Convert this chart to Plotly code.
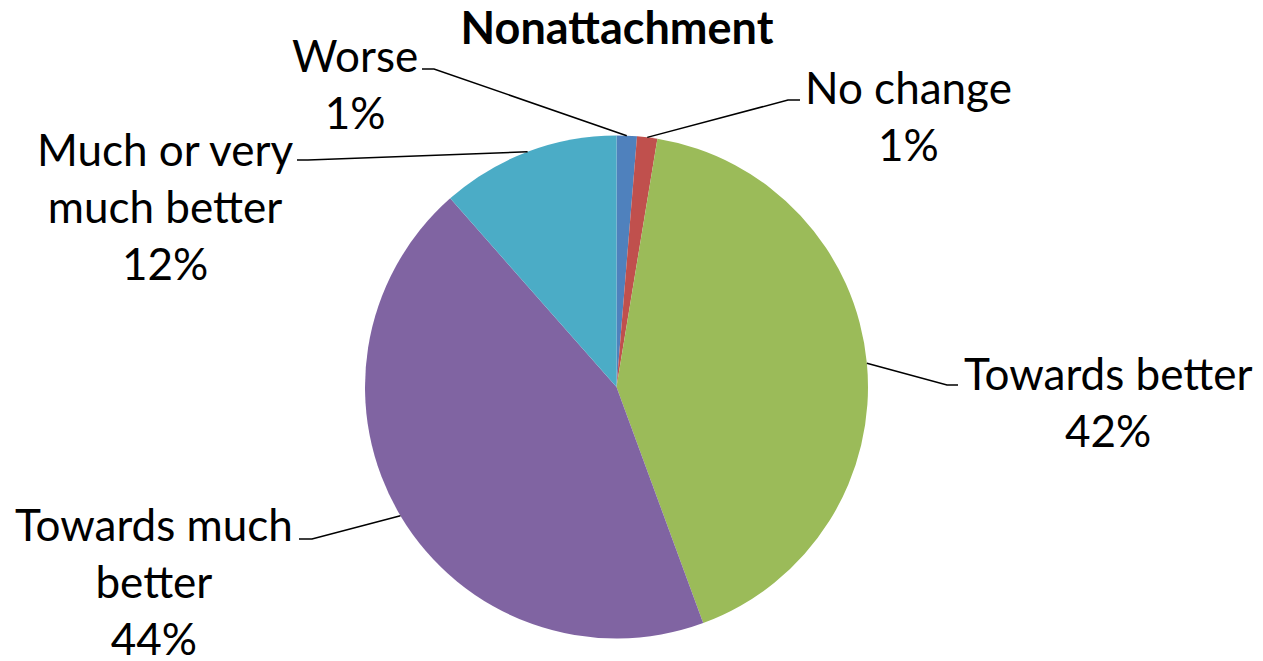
import math
import plotly.graph_objects as go

# Share of respondents per outcome, in percent (slices run clockwise from 12 o'clock)
categories = ["Worse", "No change", "Towards better", "Towards much better",
              "Much or very much better"]
shares = [1.3, 1.3, 41.8, 44.1, 11.5]
colors = ["#4F81BD", "#C0504D", "#9BBB59", "#8064A2", "#4BACC6"]

# Text as it wraps in each callout
label_lines = [["Worse"], ["No change"], ["Towards better"],
               ["Towards much", "better"], ["Much or very", "much better"]]

W, H = 1263, 661
FONT = "Lato"

# Pie placement in pixels
cx, cy, r = 616.5, 387.0, 251.5
dom_x = [(cx - r) / W, (cx + r) / W]
dom_y = [(H - (cy + r)) / H, (H - (cy - r)) / H]

# Callout anchors: text centre (px) and the elbow of each leader line (px)
label_pos = [(355, 83), (909, 115), (1108, 401), (154, 581), (165, 206)]
elbows = [((422, 69), (434, 69)),
          ((800, 100), (788, 100)),
          ((958, 385), (947, 385)),
          ((299, 539), (312, 539)),
          ((297, 160), (308, 160))]


def px(x, y):
    return x / W, 1 - y / H


fig = go.Figure(go.Pie(
    labels=categories,
    values=shares,
    sort=False,
    direction="clockwise",
    rotation=0,
    marker=dict(colors=colors, line=dict(width=0)),
    textinfo="none",
    hoverinfo="label+percent",
    domain=dict(x=dom_x, y=dom_y),
    showlegend=False,
))

total = sum(shares)
shapes, annotations = [], []
cum = 0
for i, v in enumerate(shares):
    mid = (cum + v / 2) / total
    cum += v
    theta = 2 * math.pi * mid
    rim = (cx + r * math.sin(theta), cy - r * math.cos(theta))
    (ex0, ey0), (ex1, ey1) = elbows[i]
    pts = [px(ex0, ey0), px(ex1, ey1), px(*rim)]
    path = "M {} {} L {} {} L {} {}".format(*[c for p in pts for c in p])
    shapes.append(dict(type="path", xref="paper", yref="paper", path=path,
                       line=dict(color="black", width=1.5)))

    pct = "{:.0f}%".format(math.floor(round(100 * v / total, 6) + 0.5))
    text = "<br>".join(label_lines[i] + [pct])
    lx, ly = px(*label_pos[i])
    annotations.append(dict(x=lx, y=ly, xref="paper", yref="paper",
                            text=text, showarrow=False, align="center",
                            xanchor="center", yanchor="middle",
                            font=dict(family=FONT, size=44, color="black")))

fig.update_layout(
    width=W, height=H,
    margin=dict(l=0, r=0, t=0, b=0),
    paper_bgcolor="white",
    plot_bgcolor="white",
    title=dict(text="<b>Nonattachment</b>", x=617 / W, xanchor="center",
               y=1 - 28 / H, yanchor="middle", yref="container",
               font=dict(family=FONT, size=45, color="black")),
    shapes=shapes,
    annotations=annotations,
)

fig.write_html("out.html")
